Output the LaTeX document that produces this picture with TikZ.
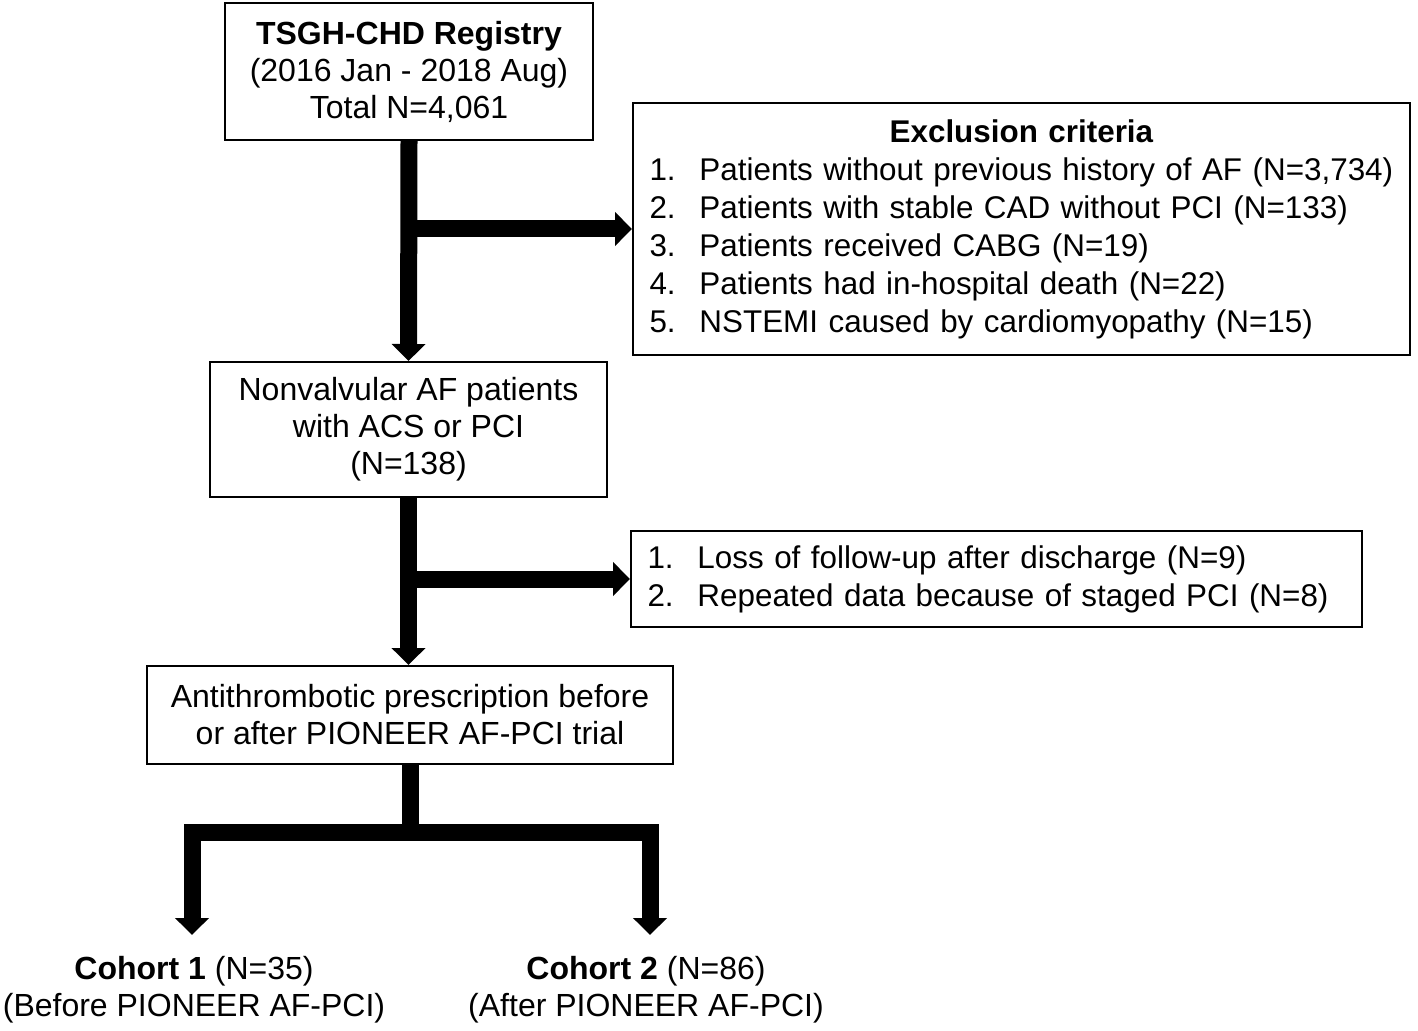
\documentclass[tikz,border=0pt]{standalone}
\usepackage{fontspec}
\setmainfont{Liberation Sans}
\usetikzlibrary{arrows.meta,positioning}
\newcommand{\flowfont}{\fontsize{16}{18.5}\selectfont}
\newcommand{\listfont}{\fontsize{15.7}{19}\selectfont}
\newcommand{\num}[1]{\hspace*{4pt}\makebox[25pt][l]{#1}}

\begin{document}
\begin{tikzpicture}[x=0.5pt,y=-0.5pt,
    box/.style={draw, line width=1pt, inner sep=0pt, align=center, font=\flowfont},
    listbox/.style={box, inner xsep=4.25pt, align=left, font=\listfont},
    fat/.style={line width=8.5pt, line join=miter, -{Triangle[width=16.5pt,length=8.5pt]}},
    cohort/.style={align=center, font=\flowfont, inner sep=0pt}]

      \useasboundingbox (0,0) rectangle (1418,1031);

      \node[box, minimum width=184pt, minimum height=68.5pt] (registry) at (409,71.5)
        {\textbf{TSGH-CHD Registry}\\(2016 Jan - 2018 Aug)\\Total N=4,061};
      \node[listbox, text width=380pt, minimum height=126pt] (exclusion) at (1021.5,229)
        {\makebox[\linewidth]{\textbf{Exclusion criteria}}\\
         \num{1.}Patients without previous history of AF (N=3,734)\\
         \num{2.}Patients with stable CAD without PCI (N=133)\\
         \num{3.}Patients received CABG (N=19)\\
         \num{4.}Patients had in-hospital death (N=22)\\
         \num{5.}NSTEMI caused by cardiomyopathy (N=15)};
      \node[box, minimum width=198.5pt, minimum height=67.5pt] (nonvalvular) at (408.5,429.5)
        {Nonvalvular AF patients\\with ACS or PCI\\(N=138)};
      \node[listbox, text width=357pt, minimum height=48pt] (lost) at (996.5,579)
        {\num{1.}Loss of follow-up after discharge (N=9)\\
         \num{2.}Repeated data because of staged PCI (N=8)};
      \node[box, minimum width=263pt, minimum height=49pt] (antithrombotic) at (410,715)
        {Antithrombotic prescription before\\or after PIONEER AF-PCI trial};
      \node[cohort] (cohort_1) at (194,990)
        {\textbf{Cohort 1} (N=35)\\(Before PIONEER AF-PCI)};
      \node[cohort] (cohort_2) at (646,990)
        {\textbf{Cohort 2} (N=86)\\(After PIONEER AF-PCI)};

      \coordinate (split) at (410,832.5);
      \coordinate (tip_1) at (192,935);
      \coordinate (tip_2) at (650,935);

      \draw[fat] (registry.south) -- (nonvalvular.north);
      \draw[fat] (registry.south |- exclusion.west) -- (exclusion.west);
      \draw[fat] (nonvalvular.south) -- (nonvalvular.south |- antithrombotic.north);
      \draw[fat] (nonvalvular.south |- lost.west) -- (lost.west);
      \draw[fat, -] (antithrombotic.south) -- (split);
      \draw[fat, {Triangle[width=16.5pt,length=8.5pt]}-{Triangle[width=16.5pt,length=8.5pt]}]
        (tip_1) |- (split) -| (tip_2);
    \end{tikzpicture}
\end{document}
